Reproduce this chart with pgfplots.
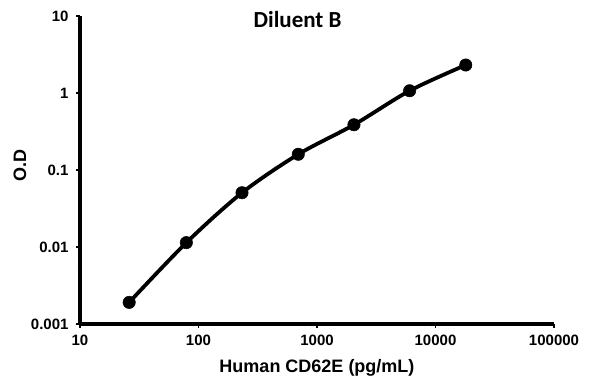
\documentclass[border=0pt]{standalone}
\usepackage{pgfplots}
\pgfplotsset{compat=1.18}
\usepackage{fontspec}
\setmainfont{Liberation Sans}
\newfontfamily\titlefont{Carlito}
\begin{document}
\begin{tikzpicture}
\path[use as bounding box] (0,0) rectangle (596bp,-384bp);
\begin{axis}[
  at={(80bp,-324bp)}, anchor=south west,
  scale only axis, width=474bp, height=308bp,
  xmode=log, ymode=log,
  xmin=10, xmax=100000, ymin=0.001, ymax=10,
  axis x line*=bottom, axis y line*=left,
  axis line style={line width=3.5bp, -},
  xtick={10,100,1000,10000,100000},
  xticklabels={10,100,1000,10000,100000},
  ytick={0.001,0.01,0.1,1,10},
  yticklabels={0.001,0.01,0.1,1,10},
  /pgf/number format/assume math mode=true,
  tick label style={font=\fontsize{15bp}{18bp}\selectfont\bfseries},
  xticklabel style={yshift=-4bp},
  yticklabel style={xshift=-4bp},
  tick style={black, line width=1.5bp},
  major tick length=4bp, minor tick length=2.5bp,
  tick align=outside,
  minor tick style={line width=1bp},
  xlabel={Human CD62E (pg/mL)},
  ylabel={O.D},
  label style={font=\fontsize{18bp}{21bp}\selectfont\bfseries},
  xlabel style={at={(axis description cs:0.5,0)}, anchor=center, yshift=-44bp},
  ylabel style={at={(axis description cs:-0.127,0.516)}, anchor=center, rotate=0},
  title={\titlefont\bfseries Diluent B},
  title style={at={(axis description cs:0.459,0.968)}, anchor=center, font=\fontsize{23bp}{26bp}\selectfont},
  clip=false,
]
\addplot[black, line width=3.8bp, smooth, mark=*, mark size=6.2bp, mark options={solid, line width=0.5bp}]
coordinates {
(26,0.00191) (79,0.0114) (233,0.0507) (695,0.160) (2050,0.387) (6050,1.07) (18000,2.31)
};
\end{axis}
\end{tikzpicture}
\end{document}
